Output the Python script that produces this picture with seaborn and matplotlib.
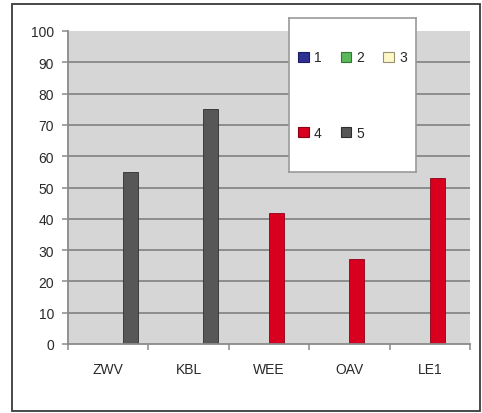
import matplotlib
matplotlib.use("Agg")
import matplotlib.pyplot as plt
from matplotlib.patches import Patch, Rectangle
import numpy as np
import pandas as pd
import seaborn as sns

# Chart data
categories = ["ZWV", "KBL", "WEE", "OAV", "LE1"]
series_of_category = ["5", "5", "4", "4", "4"]
values = [55, 75, 42, 27, 53]
legend_series = ["1", "2", "3", "4", "5"]
y_ticks = list(range(0, 101, 10))

# Series colours (the sixth level is an unused placeholder slot)
face_colors = {"1": "#2e3192", "2": "#5cb85c", "3": "#fdf8c8",
               "4": "#d8001e", "5": "#575757", "6": "#d6d6d6"}
edge_colors = {"1": "#1a1d66", "2": "#2f7a2f", "3": "#9a9070",
               "4": "#8c0016", "5": "#2e2e2e"}

sns.set_theme(style="white")
plt.rcParams["font.family"] = ["Liberation Sans", "DejaVu Sans"]

df = pd.DataFrame({"category": categories,
                   "series": series_of_category,
                   "value": values})

fig = plt.figure(figsize=(4.82, 4.14), dpi=100)
ax = fig.add_axes([68 / 482, 1 - 345 / 414, (470 - 68) / 482, (345 - 32) / 414])
ax.set_facecolor("#d6d6d6")

hue_levels = legend_series + ["6"]
sns.barplot(data=df, x="category", y="value", hue="series",
            order=categories, hue_order=hue_levels, palette=face_colors,
            saturation=1, width=1.1, dodge=True, legend=False, ax=ax,
            edgecolor="#2a2a2a", linewidth=0.6, zorder=3)

# darker outline per series
for bar_container, lvl in zip(ax.containers, hue_levels):
    for p in bar_container.patches:
        p.set_edgecolor(edge_colors.get(lvl, "#2a2a2a"))

ax.set_xlim(-0.5, len(categories) - 0.5)
ax.set_ylim(0, 100)
ax.set_yticks(y_ticks)
ax.set_yticklabels([str(t) for t in y_ticks])
ax.set_xlabel("")
ax.set_ylabel("")

# horizontal gridlines (none along the top edge)
for t in y_ticks[1:-1]:
    ax.axhline(t, color="#8c8c8c", linewidth=1.4, zorder=1)

for side in ("top", "right"):
    ax.spines[side].set_visible(False)
for side in ("left", "bottom"):
    ax.spines[side].set_color("#8a8a8a")
    ax.spines[side].set_linewidth(1.3)
    ax.spines[side].set_zorder(4)

ax.tick_params(axis="y", which="major", direction="out", length=4, width=1.1,
               color="#8a8a8a", pad=6, labelsize=10, labelcolor="#2a2a2a", left=True)
ax.tick_params(axis="x", which="major", length=0, pad=13,
               labelsize=10, labelcolor="#2a2a2a")
ax.set_xticks(np.arange(-0.5, len(categories), 1.0), minor=True)
ax.tick_params(axis="x", which="minor", direction="out", length=4, width=1.1,
               color="#8a8a8a", bottom=True)

# legend panel
lax = fig.add_axes([289 / 482, 1 - 173 / 414, 127 / 482, 154 / 414], zorder=5)
lax.set_facecolor("white")
lax.set_xticks([])
lax.set_yticks([])
for s in lax.spines.values():
    s.set_color("#9a9a9a")
    s.set_linewidth(1.2)
# column-major fill: arrange so rows read 1 2 3 / 4 5
legend_order = ["1", "4", "2", "5", "3"]
handles = [Patch(facecolor=face_colors[s], edgecolor=edge_colors[s], linewidth=0.8)
           for s in legend_order]
lax.legend(handles, legend_order, loc="center", ncol=3, frameon=False,
           fontsize=10, handlelength=0.75, handleheight=0.75,
           handletextpad=0.4, columnspacing=1.35, labelspacing=4.4,
           borderpad=0.0)

# outer frame
fig.patches.append(Rectangle((12 / 482, 1 - 412 / 414), (480 - 12) / 482,
                             (412 - 5) / 414, transform=fig.transFigure,
                             fill=False, edgecolor="#3a3a3a", linewidth=1.3))

fig.savefig("out.png", dpi=100, facecolor="white")
